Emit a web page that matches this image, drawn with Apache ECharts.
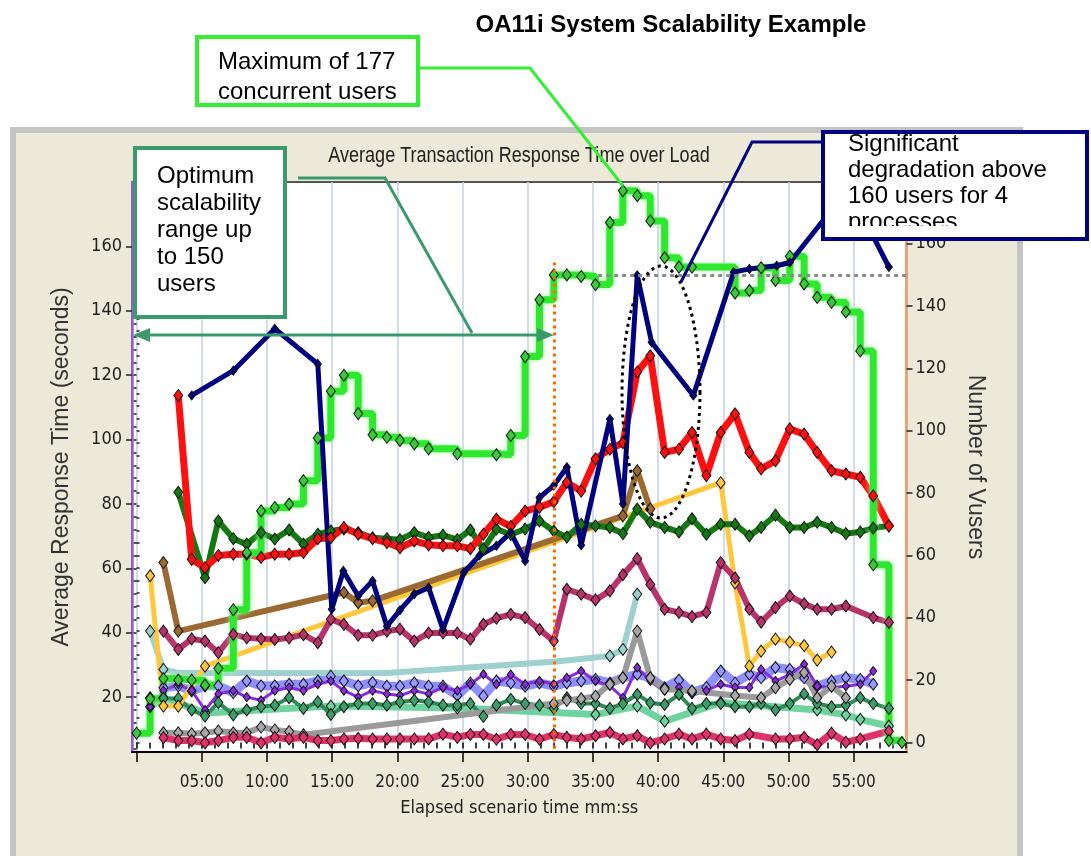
<!DOCTYPE html>
<html><head><meta charset="utf-8">
<script src="https://cdn.jsdelivr.net/npm/echarts@6/dist/echarts.min.js"></script>
<style>html,body{margin:0;padding:0;background:#fff}#c{width:1091px;height:856px}</style>
</head><body><div id="c"></div>
<script>
const _ = null;
// sample times (minutes)
const T = [0,1.04,2.06,3.2,4.23,5.25,6.27,7.42,8.45,9.55,10.6,11.7,12.8,13.9,14.9,15.9,17.0,18.1,19.2,20.2,21.3,22.4,23.5,24.6,25.6,26.6,27.6,28.7,29.8,30.9,32.0,33.0,34.1,35.2,36.3,37.3,38.4,39.4,40.5,41.6,42.6,43.7,44.8,45.9,47.0,47.9,49.0,50.1,51.2,52.2,53.3,54.4,55.5,56.5,57.7,58.7];
// Number of Vusers (right axis)
const VUSERS = [3,14,20.5,20,20,18.4,23.8,42.6,60.9,74.3,75.4,76.5,84,97.7,112.7,117.8,105.5,98.7,97.9,96.9,95.8,94.2,_,92.6,_,_,92.3,98.5,123.8,142,150,150,149.5,146.9,166.8,177,175.4,167.3,155.5,152.5,152.5,_,_,144.2,145,152.3,148.2,156,147.1,142.8,141.2,138.1,125.6,57,0.6,0];
// response times (left axis)
const RED = [_,_,_,113.7,62.8,60.2,64,64.4,64.4,63.4,64.4,64.4,64.9,69.2,69.5,72.7,70.6,69.2,68,66.4,68.5,67.3,67,67,66.1,70.6,75.3,73,77.8,79,80.7,86.7,84,94,97,99,121,126,96,97,102.2,88.8,102.2,108,96,90.9,93.4,103.3,101.7,96,90.3,89.3,88.3,82.5,73.2,_];
const DKGREEN = [_,_,_,83.6,_,57.1,74.7,69.2,67.5,71.1,69.1,71.9,67.5,70.6,71.6,72.2,71.1,69.5,69.2,68.9,71.1,69.6,70.3,68.9,71.9,66,72.2,70.5,72.2,74.7,71.6,69.7,73.7,73.2,72.7,70.8,78.4,74.3,72.7,71.3,75.4,70.6,73.7,73.7,70.1,72.7,76.5,72.7,72.7,74.3,72.7,70.8,71.3,72.5,73.2,_];
const BROWN = [_,_,61.8,40.5,_,_,_,_,_,_,_,_,_,_,_,52.5,49.3,49.9,_,_,_,_,_,_,_,_,_,_,_,_,_,_,_,_,_,76.3,90.3,78.4,_,_,_,_,_,_,_,_,_,_,_,_,_,_,_,_,_,_];
const YELLOW = [_,57.7,17.2,17.2,_,29.6,_,_,_,_,_,_,_,_,_,_,_,_,_,_,_,_,_,_,_,_,_,_,_,_,_,_,_,_,_,_,_,_,_,_,_,_,86.6,55.5,29.6,34.3,38,37.1,36,31.5,34,_,_,_,_,_];
const MAROON = [_,_,40.5,34.8,38.1,37.4,33.8,39.5,38.4,38.1,37.9,38.4,39.4,36.9,44.2,42.6,39.2,39.2,40.5,41.1,37.4,39.9,39.9,39.9,38,42.6,44.5,45.7,44.7,41,37.4,53.5,52,50.2,53,58,63,55,47.3,46.3,45,46.3,61.8,57,47.3,43.3,47.8,51.4,49,47.3,47.3,48.3,_,44.7,43.2,_];
const LTEAL = [_,40.5,28.6,27.5,_,_,_,_,_,_,_,_,_,_,_,_,_,_,27.5,_,_,_,_,_,_,_,_,_,_,_,31,_,_,_,32.8,34.8,52,_,_,_,_,_,_,_,_,_,_,_,_,_,_,_,_,_,_,_];
const PERI = [_,_,22.9,23.5,21.9,23.5,23.5,21.4,25,23.5,23.5,24,24,25,26.5,25,23.5,24.5,23.4,23.4,24.4,23.4,23.4,20.5,24.4,20.3,25,24.4,23.4,24.4,23.4,24.4,25,25.5,24.4,26,27.1,26,22.9,25.3,21.4,23,28.1,24.4,27.1,26,29.2,28.6,26,23.4,25,26.1,25.5,24,_,_];
const PURPLE = [_,17,22,24,22,16,21,22,20,19,22,23,22,24,25,22,20,22,21,20.5,22,21,23,22,24,27.1,24,27,24,25,24,26,28.1,25,23.5,19.8,29.2,25,22,23,21,22,24,23,23,28.6,25,27,30.2,23.4,23,23.4,24,28.1,_,_];
const SEAGREEN = [_,19.8,19.6,19.6,16,14.1,18.3,14.5,16,17,17.5,19.8,16.5,18.5,14.6,17,18,18,17.5,18.5,19,18.5,17.5,17.5,18,14,17.5,19.3,18,17.5,16.5,19.8,18,18,16.5,18,20.8,18.2,17.7,20.8,16.5,18,18,17,17,18,16,18,21,18,17,17.5,19.8,18,16.5,_];
const AQUA = [_,17,19.8,_,_,15.1,_,_,_,_,_,_,_,_,17.2,_,_,_,_,_,_,_,_,16.6,_,_,_,_,_,_,_,_,_,14.6,_,_,17.2,_,12.5,_,_,_,18.3,_,_,_,_,_,_,16,_,14.5,13.1,_,11,_];
const GRAY = [_,_,8.9,8.9,8.6,8.9,9.5,8.9,8.9,10.7,9.8,9.3,8.3,_,_,_,_,_,_,_,_,_,_,_,_,_,_,_,_,_,18,19,19.5,20.3,24,26,40.5,26,22.5,_,21.9,_,_,20.5,_,19.8,22.9,25.5,27.6,19.8,23.4,19.8,_,_,_,_];
const CRIMSON = [_,_,7.4,6.5,6.5,5.8,6.5,7.5,7.5,5.8,7.5,7,7.5,6.5,6.5,7,7.2,7,7,7,7,7,8.5,7.5,8.4,8.4,6.9,8.4,8.4,6.9,8.4,7.5,7,8,9,7,8,5.8,7,8.5,7,8.5,7,6.5,8.5,_,7,7,7.5,5.2,8.8,6,7,_,9.4,_];
// navy series has its own sample times
const NAVY_T = [4.23,7.42,10.6,13.9,14.97,15.86,17.0,18.1,19.2,20.2,21.3,22.4,23.5,25.1,26.3,27.6,28.7,29.8,30.9,32.0,33.0,34.1,36.3,37.3,38.4,39.5,42.7,45.8,47.0,49.1,50.1,54.6,57.7];
const NAVY = [113.7,121.4,134.4,123.5,47.3,59.2,51.4,56.1,42,47,52,54,41,58.7,64,67,71.1,62.3,82,85.7,91.4,67.2,106.4,80,151,130.2,113.7,152,153,154,155,178,153.6];

// axis ticks / labels
const X_LABELS = [5,10,15,20,25,30,35,40,45,50,55];
const X_MAJOR = [0,5,10,15,20,25,30,35,40,45,50,55];
const YL_LABELS = [20,40,60,80,100,120,140,160];
const YR_LABELS = [0,20,40,60,80,100,120,140,160];
const LIMIT_USERS = 150;   // dotted horizontal reference
const LIMIT_TIME = 32;     // dotted vertical reference (minutes)

const X_MIN=-0.35, X_MAX=59.05, YL_MIN=2.95, YL_MAX=180, YR_MIN=-3.05, YR_MAX=179.8;
const X_MINOR=[]; for(let m=0;m<=59;m++) X_MINOR.push(m);
const YL_MINOR=[]; for(let v=4;v<=176;v+=4) YL_MINOR.push(v);
const YR_MINOR=[]; for(let v=0;v<=176;v+=4) YR_MINOR.push(v);

const NARROW = "'DejaVu Sans Condensed','Liberation Sans Narrow',sans-serif";
const SANS = "'Liberation Sans',Arial,sans-serif";

function mk(name, vals, o){
  const times = o.times || T;
  const data = [];
  vals.forEach((v,i)=>{
    if(v==null) return;
    const p=[times[i], v];
    if(o.noMark && o.noMark.indexOf(i)>=0) data.push({value:p, symbol:'none'});
    else data.push(p);
  });
  const ls = {color:o.c, width:o.w};
  if(o.glow){ ls.shadowColor=o.glow; ls.shadowBlur=5; }
  const s = {type:'line', name, data, yAxisIndex:o.y||0, step:o.step||false,
    symbol:'diamond', symbolSize:o.ss||[9,12], showSymbol:true, showAllSymbol:true,
    connectNulls:true, silent:true,
    lineStyle:ls,
    itemStyle:{color:o.mc||o.c, borderColor:'#111', borderWidth:1},
    emphasis:{disabled:true}, animation:false};
  if(o.markLine) s.markLine=o.markLine;
  return s;
}

const series = [
  mk('aqua', AQUA, {c:'#6fd3a0', w:7}),
  mk('peri', PERI, {c:'#8f8fff', w:9, mc:'#9a9aff'}),
  mk('purple', PURPLE, {c:'#8a2be2', w:3, ss:[7,9]}),
  mk('seagreen', SEAGREEN, {c:'#2e8b57', w:4, mc:'#3aa06a'}),
  mk('gray', GRAY, {c:'#9a9a9a', w:6, mc:'#a8a8a8'}),
  mk('crimson', CRIMSON, {c:'#e0336a', w:7}),
  mk('lteal', LTEAL, {c:'#9fd0d0', w:6, noMark:[3,18,30]}),
  mk('yellow', YELLOW, {c:'#ffc83c', w:5}),
  mk('brown', BROWN, {c:'#9a6a32', w:6}),
  mk('maroon', MAROON, {c:'#b8336a', w:6}),
  mk('dkgreen', DKGREEN, {c:'#137a13', w:6}),
  mk('red', RED, {c:'#ff1010', w:7, markLine:{symbol:'none', silent:true, label:{show:false}, animation:false,
      lineStyle:{color:'#ff6a00', width:3, type:[3,4]},
      data:[[{coord:[LIMIT_TIME,155]},{coord:[LIMIT_TIME,YL_MIN]}]]}}),
  mk('vusers', VUSERS, {c:'#2ee82e', w:7, mc:'#3cc83c', y:2, step:'end', glow:'#a8f5a8', markLine:{symbol:'none', silent:true, label:{show:false}, animation:false,
      lineStyle:{color:'#8a8a8a', width:3, type:[4,4]},
      data:[[{coord:[35.4,LIMIT_USERS]},{coord:[X_MAX,LIMIT_USERS]}]]}}),
  mk('navy', NAVY, {c:'#000080', w:5, times:NAVY_T, ss:[7,9]})
];

function ellipsePts(cx,cy,rx,ry,n){const p=[];for(let k=0;k<n;k++){const a=2*Math.PI*k/n;p.push([cx+rx*Math.cos(a),cy+ry*Math.sin(a)]);}return p;}

const graphic = [
  // panel
  {type:'rect', z:-100, silent:true, shape:{x:13,y:130,width:1007,height:740}, style:{fill:'#ECE9D8', stroke:'#c4c4c4', lineWidth:6}},
  // chart caption inside the panel (condensed look)
  {type:'text', z:50, x:519, y:156, scaleX:0.82, style:{text:'Average Transaction Response Time over Load', font:'22px '+SANS, fill:'#222', align:'center', textAlign:'center', verticalAlign:'middle', textVerticalAlign:'middle'}},
  // maximum box
  {type:'polyline', z:105, shape:{points:[[418,68],[530,68],[623,186]]}, style:{stroke:'#33ee33', lineWidth:3, fill:null}},
  {type:'rect', z:106, shape:{x:197,y:37,width:221,height:68}, style:{fill:'#fff', stroke:'#33ee33', lineWidth:4}},
  {type:'text', z:110, x:218, y:47, style:{text:'Maximum of 177\nconcurrent users', font:'24px '+SANS, lineHeight:30, fill:'#000', verticalAlign:'top', textVerticalAlign:'top'}},
  // optimum box
  {type:'polyline', z:105, shape:{points:[[298,178],[385,178],[472,333]]}, style:{stroke:'#3a9a6c', lineWidth:3, fill:null}},
  {type:'line', z:105, shape:{x1:147,y1:335,x2:540,y2:335}, style:{stroke:'#3a9a6c', lineWidth:3}},
  {type:'polygon', z:105, shape:{points:[[133,335],[150,328],[150,342]]}, style:{fill:'#3a9a6c'}},
  {type:'polygon', z:105, shape:{points:[[554,335],[537,328],[537,342]]}, style:{fill:'#3a9a6c'}},
  {type:'rect', z:106, shape:{x:135,y:148,width:150,height:169}, style:{fill:'#fff', stroke:'#3a9a6c', lineWidth:4}},
  {type:'text', z:110, x:157, y:163, style:{text:'Optimum\nscalability\nrange up\nto 150\nusers', font:'24px '+SANS, lineHeight:27, fill:'#000', verticalAlign:'top', textVerticalAlign:'top'}},
  // degradation box
  {type:'polyline', z:105, shape:{points:[[824,142],[752,142],[681,282]]}, style:{stroke:'#000080', lineWidth:3, fill:null}},
  {type:'rect', z:106, shape:{x:823,y:132,width:264,height:107}, style:{fill:'#fff', stroke:null}},
  {type:'text', z:110, x:848, y:131, style:{text:'Significant\ndegradation above\n160 users for 4\nprocesses', font:'24px '+SANS, lineHeight:26, fill:'#000', verticalAlign:'top', textVerticalAlign:'top'}},
  {type:'rect', z:111, shape:{x:825,y:226,width:260,height:12}, style:{fill:'#fff', stroke:null}},
  {type:'rect', z:112, shape:{x:823,y:132,width:264,height:107}, style:{fill:null, stroke:'#000080', lineWidth:4}},
  // dotted ellipse
  {type:'polygon', z:104, shape:{points:ellipsePts(661,392,39,126,90)}, style:{fill:null, stroke:'#000', lineWidth:3, lineDash:[3,4]}}
];

const chart = echarts.init(document.getElementById('c'), null, {renderer:'canvas'});
chart.setOption({
  animation:false,
  backgroundColor:'transparent',
  title:[
    {text:'OA11i System Scalability Example', left:666, top:8, textAlign:'center',
     textStyle:{fontFamily:SANS, fontSize:24, fontWeight:'bold', color:'#000'}}
  ],
  grid:{left:132, top:182, right:184.5, bottom:104, show:true, backgroundColor:'#ffffff', borderColor:'#555', borderWidth:2},
  xAxis:[
    {type:'value', min:X_MIN, max:X_MAX, position:'bottom',
     axisLine:{show:true, onZero:false, lineStyle:{color:'#000', width:2}},
     axisTick:{show:true, customValues:X_MAJOR, length:10, lineStyle:{color:'#000', width:1.5}},
     axisLabel:{customValues:X_LABELS, formatter:v=>String(v).padStart(2,'0')+':00', fontFamily:NARROW, fontSize:17, color:'#222', margin:22},
     splitLine:{show:true, lineStyle:{color:'#c3d0e0', width:1.5}},
     name:'Elapsed scenario time mm:ss', nameLocation:'middle', nameGap:47,
     nameTextStyle:{fontFamily:NARROW, fontSize:18, color:'#222'}},
    {type:'value', min:X_MIN, max:X_MAX, position:'bottom',
     axisLine:{show:false}, axisTick:{show:true, customValues:X_MINOR, length:6, lineStyle:{color:'#000', width:1.5}},
     axisLabel:{show:false}, splitLine:{show:false}}
  ],
  yAxis:[
    {type:'value', min:YL_MIN, max:YL_MAX, position:'left',
     axisLine:{show:true, onZero:false, lineStyle:{color:'#9b5fd6', width:2.5}},
     axisTick:{show:true, customValues:YL_LABELS, length:6, lineStyle:{color:'#222', width:1.5}},
     axisLabel:{customValues:YL_LABELS, fontFamily:NARROW, fontSize:18, color:'#222', margin:10},
     splitLine:{show:false},
     name:'Average Response Time (seconds)', nameLocation:'middle', nameGap:59, nameRotate:90,
     nameTextStyle:{fontFamily:SANS, fontSize:23, color:'#333'}},
    {type:'value', min:YL_MIN, max:YL_MAX, position:'left',
     axisLine:{show:false}, axisTick:{show:true, customValues:YL_MINOR, length:3, lineStyle:{color:'#222', width:1.5}},
     axisLabel:{show:false}, splitLine:{show:false}},
    {type:'value', min:YR_MIN, max:YR_MAX, position:'right',
     axisLine:{show:true, onZero:false, lineStyle:{color:'#e9a27e', width:3}},
     axisTick:{show:true, customValues:YR_LABELS, length:6, lineStyle:{color:'#222', width:1.5}},
     axisLabel:{customValues:YR_LABELS, fontFamily:NARROW, fontSize:18, color:'#222', margin:9},
     splitLine:{show:false},
     name:'Number of Vusers', nameLocation:'middle', nameGap:57, nameRotate:-90,
     nameTextStyle:{fontFamily:SANS, fontSize:23, color:'#333'}},
    {type:'value', min:YR_MIN, max:YR_MAX, position:'right',
     axisLine:{show:false}, axisTick:{show:true, customValues:YR_MINOR, length:3, lineStyle:{color:'#222', width:1.5}},
     axisLabel:{show:false}, splitLine:{show:false}}
  ],
  series,
  graphic
});
</script></body></html>
